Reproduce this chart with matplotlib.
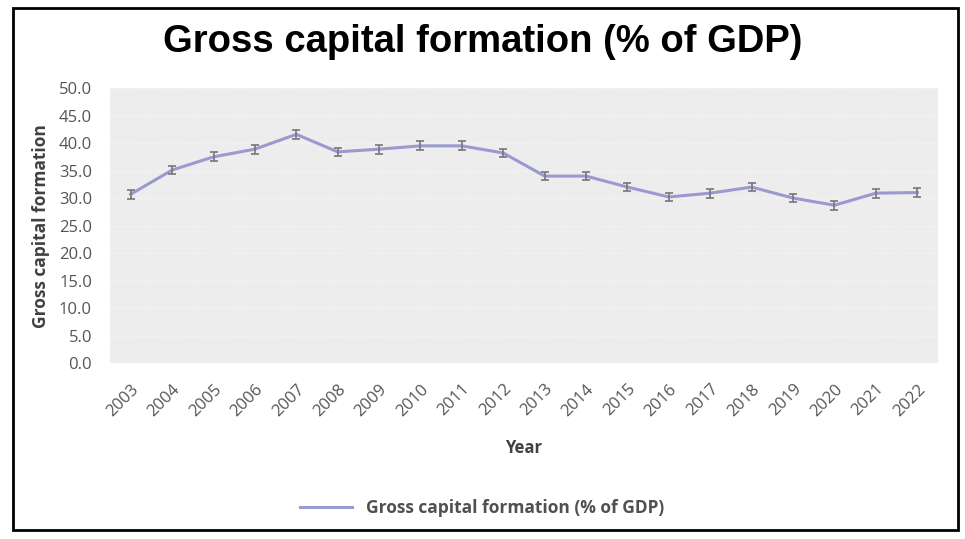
import matplotlib
matplotlib.use("Agg")
import matplotlib.pyplot as plt
from matplotlib.patches import Rectangle

years = [str(y) for y in range(2003, 2023)]
values = [30.7, 35.1, 37.5, 38.9, 41.6, 38.4, 38.9, 39.5, 39.5, 38.2,
          34.0, 34.0, 32.0, 30.2, 30.9, 32.0, 30.0, 28.7, 30.9, 31.0]
errors = [0.8] * len(values)
yticks = [0, 5, 10, 15, 20, 25, 30, 35, 40, 45, 50]

plt.rcParams['font.family'] = ['Open Sans', 'DejaVu Sans']
fig = plt.figure(figsize=(9.65, 5.39), dpi=100)
fig.patch.set_facecolor('white')
fig.add_artist(Rectangle((0.013, 0.017), 0.98, 0.968, transform=fig.transFigure,
                         fill=False, edgecolor='black', linewidth=2))

ax = fig.add_axes([0.114, 0.3265, 0.858, 0.51])
ax.set_facecolor('#ededed')
x = list(range(len(years)))
line, = ax.plot(x, values, color='#9a9ad0', linewidth=2.2,
                label='Gross capital formation (% of GDP)', zorder=3)
ax.errorbar(x, values, yerr=errors, fmt='none', ecolor='#777777',
            elinewidth=1.2, capsize=3, capthick=1.2, zorder=4)
ax.set_xlim(-0.5, len(years) - 0.5)
ax.set_ylim(0, 50)
ax.set_yticks(yticks)
ax.set_yticklabels([f"{v:.1f}" for v in yticks], color='#555555', fontsize=12)
ax.set_xticks(x)
ax.set_xticklabels(years, rotation=45, ha='right', rotation_mode='anchor',
                   color='#555555', fontsize=12)
ax.tick_params(axis='y', length=0, pad=13)
ax.tick_params(axis='x', length=0, pad=13)
ax.grid(axis='y', color='#f8f8f8', linewidth=1, linestyle=':')
for s in ax.spines.values():
    s.set_visible(False)
ax.set_xlabel('Year', fontsize=12, fontweight='bold', color='#404040', labelpad=14)
ax.set_ylabel('Gross capital formation', fontsize=12.5, fontweight='bold',
              color='#404040', labelpad=6)

fig.text(0.5, 0.922, 'Gross capital formation (% of GDP)', ha='center', va='center',
         fontsize=27.5, fontweight='bold', color='black',
         family=['Liberation Sans', 'DejaVu Sans'])

fig.legend(handles=[line], loc='center', bbox_to_anchor=(0.5, 0.058),
           frameon=False, handlelength=3.0,
           prop={'size': 12.5, 'weight': 'bold'}, labelcolor='#505050')
fig.savefig('out.png', dpi=100)
